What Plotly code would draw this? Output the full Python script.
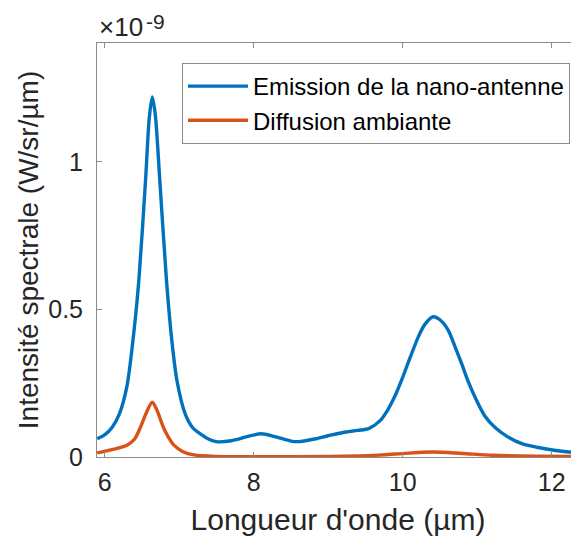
import plotly.graph_objects as go

# wavelength (µm) and spectral intensity (x1e-9 W/sr/µm)
emission_x = [5.9, 6.0, 6.1, 6.2, 6.3, 6.4, 6.46, 6.55, 6.6, 6.64, 6.68, 6.74, 6.83,
              6.9, 6.97, 7.08, 7.18, 7.28, 7.4, 7.5, 7.7, 7.9, 8.1, 8.3, 8.5, 8.6,
              8.8, 9.0, 9.2, 9.4, 9.55, 9.7, 9.8, 9.89, 10.0, 10.07, 10.21, 10.3,
              10.41, 10.5, 10.61, 10.7, 10.79, 10.88, 10.97, 11.1, 11.24, 11.4,
              11.6, 11.8, 12.03, 12.2, 12.4]
emission_y = [0.062, 0.075, 0.10, 0.147, 0.24, 0.44, 0.60, 0.94, 1.15, 1.22, 1.16,
              0.94, 0.60, 0.40, 0.26, 0.147, 0.10, 0.079, 0.06, 0.052, 0.055, 0.068,
              0.079, 0.068, 0.054, 0.052, 0.06, 0.072, 0.083, 0.09, 0.097, 0.124,
              0.16, 0.203, 0.27, 0.317, 0.407, 0.45, 0.475, 0.465, 0.43, 0.375,
              0.317, 0.255, 0.203, 0.14, 0.10, 0.07, 0.045, 0.033, 0.023, 0.018,
              0.014]

ambient_x = [5.9, 6.1, 6.3, 6.4, 6.48, 6.56, 6.64, 6.7, 6.79, 6.85, 6.93, 7.05, 7.2,
             7.5, 8.0, 9.0, 9.5, 9.9, 10.4, 10.8, 11.2, 11.8, 12.4]
ambient_y = [0.014, 0.025, 0.04, 0.06, 0.10, 0.15, 0.186, 0.16, 0.10, 0.07, 0.04,
             0.018, 0.007, 0.002, 0.001, 0.002, 0.004, 0.01, 0.017, 0.012, 0.006,
             0.003, 0.002]

names = ["Emission de la nano-antenne", "Diffusion ambiante"]
colors = ["#0072BD", "#D95319"]

y_ticks = [0, 0.5, 1]
y_tick_labels = ["0", "0.5", "1"]
x_ticks = [6, 8, 10, 12]

SCALE = 1e-9
FONT = "Arial, Liberation Sans, Helvetica, sans-serif"
AXIS_GRAY = "#8c8c8c"
TEXT = "#262626"

# the page body adds an 8px margin, so the figure is 8px smaller than the window
W, H = 571, 532
L, T, B = 89, 35, 83
pw, ph = W - L, H - T - B

fig = go.Figure()
for xs, ys, name, color in zip([emission_x, ambient_x], [emission_y, ambient_y], names, colors):
    fig.add_trace(go.Scatter(
        x=xs,
        y=[v * SCALE for v in ys],
        mode="lines",
        name=name,
        line=dict(color=color, width=3.4, shape="spline", smoothing=0.8),
    ))

# MATLAB-style exponent label above the y axis
fig.add_annotation(
    text="×10", xref="paper", yref="paper",
    x=(89 - L) / pw, y=1 + (T - 19) / ph,
    xanchor="left", yanchor="middle", showarrow=False,
    font=dict(family=FONT, size=26, color=TEXT),
)
fig.add_annotation(
    text="-9", xref="paper", yref="paper",
    x=(136 - L) / pw, y=1 + T / ph,
    xanchor="left", yanchor="top", showarrow=False,
    font=dict(family=FONT, size=21, color=TEXT),
)

fig.update_layout(
    width=W, height=H,
    margin=dict(l=L, r=0, t=T, b=B),
    paper_bgcolor="white", plot_bgcolor="white",
    font=dict(family=FONT, color=TEXT),
    showlegend=True,
    legend=dict(
        x=(174 - L) / pw, y=1 - (55 - T) / ph, xanchor="left", yanchor="top",
        bgcolor="white", bordercolor=AXIS_GRAY, borderwidth=1,
        font=dict(family=FONT, size=24, color="black"),
        itemwidth=60, tracegroupgap=0,
    ),
    xaxis=dict(
        range=[5.898, 12.366], tickvals=x_ticks,
        showgrid=False, zeroline=False,
        showline=True, linecolor=AXIS_GRAY, linewidth=1, mirror="ticks",
        ticks="inside", ticklen=5, tickcolor=AXIS_GRAY,
        tickfont=dict(size=25, color=TEXT), ticklabelstandoff=3,
        title=dict(text="Longueur d'onde (µm)", font=dict(size=30, color=TEXT), standoff=13),
        automargin=False,
    ),
    yaxis=dict(
        range=[0, 1.4024 * SCALE],
        tickvals=[v * SCALE for v in y_ticks], ticktext=y_tick_labels,
        showgrid=False, zeroline=False,
        showline=True, linecolor=AXIS_GRAY, linewidth=1, mirror=False,
        ticks="inside", ticklen=5, tickcolor=AXIS_GRAY,
        tickfont=dict(size=25, color=TEXT), ticklabelstandoff=8,
        title=dict(text="Intensité spectrale (W/sr/µm)", font=dict(size=28, color=TEXT), standoff=1),
        automargin=False,
    ),
)

fig.write_html("out.html")
